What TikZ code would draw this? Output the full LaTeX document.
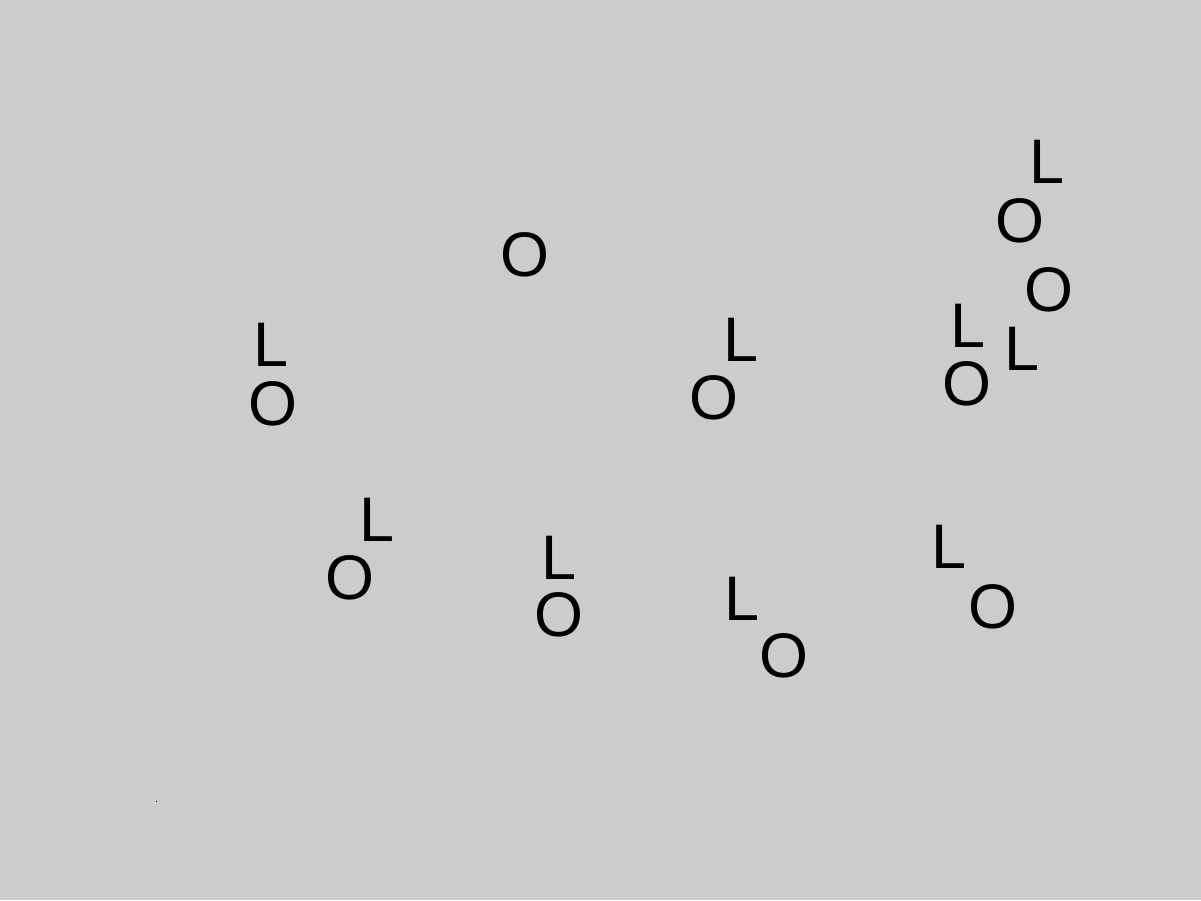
\documentclass[tikz,border=0pt]{standalone}
\usepackage{fontspec}
\setmainfont{Liberation Sans}
\usepackage{xcolor}
\definecolor{bggray}{HTML}{CCCCCC}
\tikzset{
    letter/.style={inner sep=0pt, outer sep=0pt, font=\fontsize{17.9}{20}\selectfont, text=black}
}

\begin{document}
\begin{tikzpicture}[x=0.01cm, y=-0.01cm]
    \fill[bggray] (0,0) rectangle (1201,900);
    \useasboundingbox (0,0) rectangle (1201,900);
    % top
    \node[letter] (o1) at (524.5,255) {O};
    % right cluster
    \node[letter] (l2) at (1046.5,161.5) {L};
    \node[letter] (o2) at (1019.5,220.5) {O};
    \node[letter] (o3) at (1048.5,289.5) {O};
    \node[letter] (l3) at (967.5,325.5) {L};
    \node[letter] (o4) at (966.5,383.5) {O};
    \node[letter] (l4) at (1021.5,348.5) {L};
    % middle row
    \node[letter] (l1) at (271,344.5) {L};
    \node[letter] (o5) at (272.5,403.5) {O};
    \node[letter] (l5) at (740.5,339.5) {L};
    \node[letter] (o6) at (713.5,397.5) {O};
    % bottom row
    \node[letter] (l6) at (377,519.5) {L};
    \node[letter] (o7) at (349.5,578) {O};
    \node[letter] (l7) at (559,558) {L};
    \node[letter] (o8) at (558.5,615) {O};
    \node[letter] (l8) at (741.5,598.5) {L};
    \node[letter] (o9) at (783.5,656) {O};
    \node[letter] (l9) at (949,547) {L};
    \node[letter] (o10) at (992.5,606.5) {O};
    % speck
    \fill[black] (155.5,800.5) rectangle (156.5,801.5);
\end{tikzpicture}
\end{document}
